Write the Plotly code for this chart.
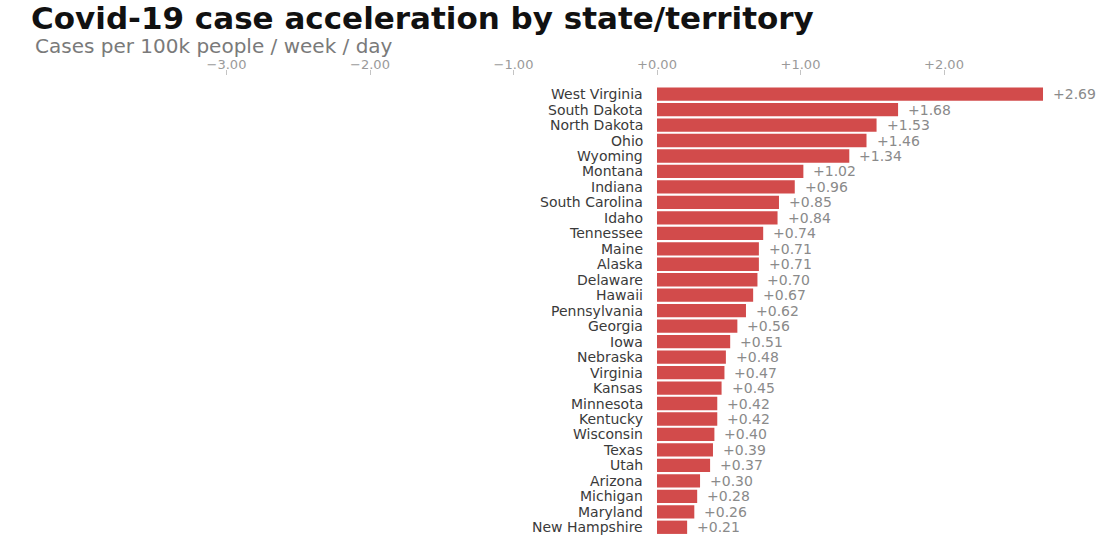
import plotly.graph_objects as go

# Weekly change in new cases per 100k people, by state/territory
states = [
    "West Virginia", "South Dakota", "North Dakota", "Ohio", "Wyoming",
    "Montana", "Indiana", "South Carolina", "Idaho", "Tennessee",
    "Maine", "Alaska", "Delaware", "Hawaii", "Pennsylvania",
    "Georgia", "Iowa", "Nebraska", "Virginia", "Kansas",
    "Minnesota", "Kentucky", "Wisconsin", "Texas", "Utah",
    "Arizona", "Michigan", "Maryland", "New Hampshire",
]
acceleration = [
    2.69, 1.68, 1.53, 1.46, 1.34,
    1.02, 0.96, 0.85, 0.84, 0.74,
    0.71, 0.71, 0.70, 0.67, 0.62,
    0.56, 0.51, 0.48, 0.47, 0.45,
    0.42, 0.42, 0.40, 0.39, 0.37,
    0.30, 0.28, 0.26, 0.21,
]
tick_values = [-3, -2, -1, 0, 1, 2]
tick_labels = ["\u22123.00", "\u22122.00", "\u22121.00", "+0.00", "+1.00", "+2.00"]

title_text = "Covid-19 case acceleration by state/territory"
subtitle_text = "Cases per 100k people / week / day"

BAR_RED = "#d24b4b"
FONT = "DejaVu Sans"

fig = go.Figure()
fig.add_trace(go.Bar(
    x=acceleration,
    y=states,
    orientation="h",
    marker=dict(color=BAR_RED, line=dict(width=0)),
    hoverinfo="skip",
))

annotations = []
for name, val in zip(states, acceleration):
    # state name just left of the zero line
    annotations.append(dict(
        x=0, y=name, xref="x", yref="y", text=name, showarrow=False,
        xanchor="right", yanchor="middle", xshift=-12,
        font=dict(family=FONT, size=14, color="#3a3a3a"),
    ))
    # signed value just past the bar end
    annotations.append(dict(
        x=val, y=name, xref="x", yref="y", text=f"+{val:.2f}", showarrow=False,
        xanchor="left", yanchor="middle", xshift=8,
        font=dict(family=FONT, size=14, color="#8a8a8a"),
    ))

annotations.append(dict(
    x=33 / 1104, y=1.066, xref="paper", yref="paper", text=subtitle_text,
    showarrow=False, xanchor="left", yanchor="middle",
    font=dict(family=FONT, size=20, color="#7a7a7a"),
))

fig.update_layout(
    width=1104, height=535,
    margin=dict(l=0, r=0, t=76, b=0),
    paper_bgcolor="white", plot_bgcolor="white",
    showlegend=False,
    bargap=0.14,
    hovermode=False,
    title=dict(
        text=f"<b>{title_text}</b>",
        x=31 / 1104, xanchor="left", xref="paper",
        y=1 - 7 / 535, yanchor="top", yref="container",
        font=dict(family=FONT, size=31, color="#111111"),
    ),
    annotations=annotations,
    xaxis=dict(
        range=[-657 / 143.5, (1104 - 657) / 143.5],
        side="top",
        tickvals=tick_values, ticktext=tick_labels,
        ticks="outside", ticklen=5, tickwidth=1, tickcolor="#c4c4c4",
        ticklabelstandoff=-4,
        tickfont=dict(family=FONT, size=13, color="#9a9a9a"),
        showgrid=False, zeroline=False, showline=False,
        fixedrange=True,
    ),
    yaxis=dict(
        categoryorder="array", categoryarray=states,
        range=[len(states) - 0.5, -1.17],
        showticklabels=False, showgrid=False, zeroline=False, showline=False,
        ticks="", fixedrange=True,
    ),
)

fig.write_html("out.html")
